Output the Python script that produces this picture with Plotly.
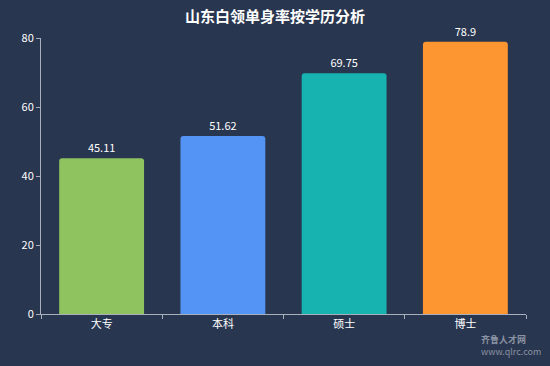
import plotly.graph_objects as go

categories = ["大专", "本科", "硕士", "博士"]
values = [45.11, 51.62, 69.75, 78.9]
value_labels = ["45.11", "51.62", "69.75", "78.9"]
colors = ["#8ec360", "#5394f5", "#16b3b1", "#fd9630"]

FONT = "Noto Sans CJK SC, Microsoft YaHei, sans-serif"
BG = "#29364f"

fig = go.Figure(go.Bar(
    x=categories, y=values, text=value_labels, textposition="outside",
    textfont=dict(color="#ffffff", size=11, family=FONT),
    marker=dict(color=colors, line=dict(width=0), cornerradius=3),
    width=0.7, cliponaxis=False,
))

fig.update_layout(
    width=550, height=366,
    paper_bgcolor=BG, plot_bgcolor=BG,
    margin=dict(l=41, r=24, t=38, b=52),
    title=dict(text="<b>山东白领单身率按学历分析</b>", x=0.5, xanchor="center",
               y=0.955, yanchor="middle",
               font=dict(color="#ffffff", size=15, family=FONT)),
    font=dict(family=FONT, color="#ffffff"),
    showlegend=False,
    xaxis=dict(showgrid=False, showline=True, linecolor="#a9b0bd", linewidth=1,
               ticks="outside", tickson="boundaries", tickcolor="#a9b0bd", ticklen=4,
               tickfont=dict(color="#ffffff", size=11)),
    yaxis=dict(range=[0, 80], tickvals=[0, 20, 40, 60, 80], showgrid=False,
               zeroline=False, showline=True, linecolor="#a9b0bd", linewidth=1,
               ticks="outside", tickcolor="#a9b0bd", ticklen=4,
               tickfont=dict(color="#ffffff", size=11)),
)

fig.add_annotation(text="<b>齐鲁人才网</b><br>www.qlrc.com", xref="paper", yref="paper",
                   x=1.035, y=-0.165, xanchor="right", yanchor="bottom", showarrow=False,
                   align="left", font=dict(color="#8a93a3", size=9, family=FONT))

fig.write_html("out.html", config={"displayModeBar": False},
               post_script="document.body.style.margin='0';")
